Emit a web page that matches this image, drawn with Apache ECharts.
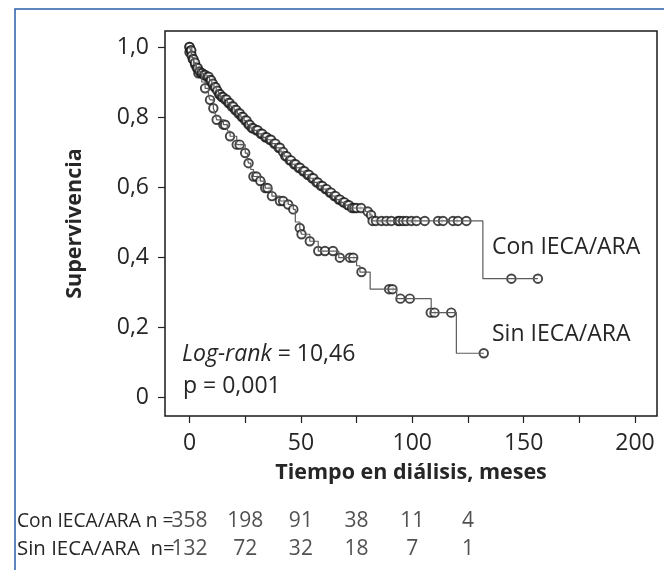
<!DOCTYPE html>
<html>
<head>
<meta charset="utf-8">
<script src="https://cdn.jsdelivr.net/npm/echarts@6/dist/echarts.min.js"></script>
<style>
  html, body { margin: 0; padding: 0; background: #fff; }
  #chart { width: 664px; height: 570px; }
</style>
</head>
<body>
<div id="chart"></div>
<script>
// Kaplan-Meier steps, [months, survival]
const conSteps = [
  [0, 1.0], [0.5, 0.99], [1, 0.975], [1.5, 0.965], [2, 0.955], [3, 0.94], [4, 0.93], [5, 0.925],
  [6, 0.92], [7.5, 0.915], [9, 0.905], [10, 0.895], [11, 0.885], [12, 0.875], [13, 0.865],
  [14, 0.857], [15.5, 0.85], [17, 0.84], [18.5, 0.83], [20, 0.82], [21.5, 0.81], [23, 0.8],
  [24.5, 0.79], [26, 0.778], [27.5, 0.768], [29, 0.762], [31, 0.752], [33, 0.742], [35, 0.735],
  [37, 0.724], [39, 0.712], [41, 0.7], [42.5, 0.688], [44, 0.676], [46, 0.665], [48, 0.655],
  [50, 0.645], [52, 0.635], [54, 0.625], [56, 0.613], [58, 0.603], [60, 0.594], [62, 0.584],
  [64, 0.574], [66, 0.564], [68, 0.556], [70, 0.548], [72, 0.54], [79, 0.53], [81, 0.52],
  [82, 0.503], [131.7, 0.338], [156.4, 0.338]
];
const conCensored = [
  [0, 1.0], [0, 0.985], [0.5, 0.99], [0.8, 0.99], [1, 0.975], [1.5, 0.965], [1.8, 0.965],
  [2.5, 0.955], [3.3, 0.94], [3.7, 0.94], [4.5, 0.93], [5.3, 0.925], [5.7, 0.925], [6.5, 0.92],
  [7, 0.92], [8, 0.915], [8.6, 0.915], [9.3, 0.905], [9.7, 0.905], [10.5, 0.895], [11.3, 0.885],
  [11.7, 0.885], [12.5, 0.875], [13.3, 0.865], [13.7, 0.865], [14.5, 0.857], [15, 0.857],
  [16, 0.85], [16.6, 0.85], [17.5, 0.84], [18, 0.84], [19, 0.83], [19.6, 0.83], [20.5, 0.82],
  [21, 0.82], [22, 0.81], [22.6, 0.81], [23.5, 0.8], [24, 0.8], [25, 0.79], [25.6, 0.79],
  [26.5, 0.778], [27, 0.778], [28, 0.768], [28.6, 0.768], [30, 0.762], [30.6, 0.762],
  [32, 0.752], [32.6, 0.752], [34, 0.742], [34.6, 0.742], [36, 0.735], [36.6, 0.735],
  [38, 0.724], [38.6, 0.724], [40, 0.712], [40.6, 0.712], [42, 0.7], [43, 0.688], [43.6, 0.688],
  [45, 0.676], [45.6, 0.676], [47, 0.665], [47.6, 0.665], [49, 0.655], [49.6, 0.655],
  [51, 0.645], [51.6, 0.645], [53, 0.635], [53.6, 0.635], [55, 0.625], [55.6, 0.625],
  [57, 0.613], [57.6, 0.613], [59, 0.603], [59.6, 0.603], [61, 0.594], [61.6, 0.594],
  [63, 0.584], [63.6, 0.584], [65, 0.574], [65.6, 0.574], [67, 0.564], [67.6, 0.564],
  [69, 0.556], [69.6, 0.556], [71, 0.548], [71.6, 0.548], [73, 0.54], [74, 0.54], [75, 0.54],
  [77, 0.54], [80, 0.53], [81.5, 0.52],
  [82.2, 0.503], [83.7, 0.503], [86.2, 0.503], [88.4, 0.503], [90.6, 0.503], [93.6, 0.503],
  [94.4, 0.503], [95.9, 0.503], [97.4, 0.503], [99.6, 0.503], [101.9, 0.503], [105.6, 0.503],
  [111.6, 0.503], [113.8, 0.503], [118.3, 0.503], [120.5, 0.503], [124.3, 0.503],
  [144.5, 0.338], [156.4, 0.338]
];
const sinSteps = [
  [0, 1.0], [1, 0.97], [2, 0.95], [3, 0.935], [4, 0.925], [5.5, 0.9], [7, 0.882], [8.5, 0.86],
  [9.2, 0.849], [10.7, 0.825], [11.5, 0.81], [12.2, 0.792], [15.2, 0.778], [17, 0.76],
  [18.2, 0.745], [21.2, 0.721], [25, 0.697], [26, 0.68], [26.5, 0.668], [27.5, 0.65],
  [28.7, 0.63], [31.8, 0.617], [34, 0.597], [37, 0.574], [40.6, 0.56], [44.3, 0.55],
  [46.6, 0.536], [47.5, 0.5], [49.5, 0.483], [50.3, 0.465], [54, 0.445], [57.8, 0.417],
  [67, 0.398], [75, 0.375], [76.5, 0.357], [81.1, 0.308], [93, 0.281], [108.5, 0.241],
  [119.8, 0.125], [132.1, 0.125]
];
const sinCensored = [
  [0, 1.0], [0.5, 0.985], [2.5, 0.95], [4, 0.925], [7, 0.882], [9.2, 0.849], [10.7, 0.825],
  [12.2, 0.792], [15.2, 0.778], [16, 0.778], [18.2, 0.745], [21.2, 0.721], [22.5, 0.721],
  [25, 0.697], [26.5, 0.668], [28.7, 0.63], [30, 0.63], [31.8, 0.617], [34, 0.597], [35, 0.597],
  [37, 0.574], [40.6, 0.56], [42, 0.56], [44.3, 0.55], [46.6, 0.536], [49.5, 0.483],
  [50.3, 0.465], [54, 0.445], [57.8, 0.417], [60.8, 0.417], [64.4, 0.417], [67.5, 0.398],
  [72, 0.398], [73.5, 0.398], [77.2, 0.357], [89.6, 0.308], [91.1, 0.308], [94.7, 0.281],
  [98.9, 0.281], [108.3, 0.241], [110, 0.241], [117.5, 0.241], [132.1, 0.125]
];

// axis ticks and labels
const xTicks = [0, 25, 50, 75, 100, 125, 150, 175, 200];
const xLabels = [0, 50, 100, 150, 200];
const yTicks = [0, 0.2, 0.4, 0.6, 0.8, 1.0];

// numbers at risk
const groups = ['Con IECA/ARA', 'Sin IECA/ARA'];
const riskMonths = [0, 25, 50, 75, 100, 125];
const riskCon = [358, 198, 91, 38, 11, 4];
const riskSin = [132, 72, 32, 18, 7, 1];

const font = '"Open Sans", "Noto Sans", sans-serif';
const textColor = '#262626';
const xMin = -11;
const xMax = 209.87;

const chart = echarts.init(document.getElementById('chart'));

const stepLine = (data) => ({
  type: 'line',
  step: 'end',
  showSymbol: false,
  clip: false,
  silent: true,
  data: data,
  lineStyle: { color: '#5c5c5c', width: 1.2 },
});

const censorMarks = (data) => ({
  type: 'scatter',
  clip: false,
  silent: true,
  symbol: 'circle',
  symbolSize: 8.5,
  data: data,
  itemStyle: { color: '#fff', borderColor: '#161616', borderWidth: 1.9 },
});

const riskRow = (group, values) => ({
  type: 'scatter',
  xAxisIndex: 1,
  yAxisIndex: 1,
  silent: true,
  symbolSize: 0,
  data: riskMonths.map((m, i) => [m, group, values[i]]),
  label: {
    show: true,
    position: 'inside',
    formatter: (p) => String(p.value[2]),
    fontSize: 21,
    fontFamily: font,
    color: textColor,
  },
});

chart.setOption({
  animation: false,
  backgroundColor: '#fff',
  grid: [
    { left: 165, top: 31, width: 492, height: 385, show: true, borderColor: '#1a1a1a', borderWidth: 1.5, backgroundColor: 'transparent' },
    { left: 165, top: 507, width: 492, height: 56 },
  ],
  xAxis: [
    {
      gridIndex: 0,
      type: 'value',
      min: xMin,
      max: xMax,
      axisLine: { show: false, onZero: false },
      axisTick: { show: true, length: 7, customValues: xTicks, lineStyle: { color: '#222', width: 1.2 } },
      splitLine: { show: false },
      axisLabel: {
        customValues: xLabels,
        margin: 16,
        fontSize: 23,
        fontFamily: font,
        color: textColor,
      },
      name: 'Tiempo en diálisis, meses',
      nameLocation: 'middle',
      nameGap: 46,
      nameTextStyle: { fontWeight: 'bold', fontSize: 21.5, fontFamily: font, color: textColor },
    },
    { gridIndex: 1, type: 'value', show: false, min: xMin, max: xMax },
  ],
  yAxis: [
    {
      gridIndex: 0,
      type: 'value',
      min: -0.0543,
      max: 1.0457,
      axisLine: { show: false, onZero: false },
      axisTick: { show: true, length: 7, customValues: yTicks, lineStyle: { color: '#222', width: 1.2 } },
      splitLine: { show: false },
      axisLabel: {
        customValues: yTicks,
        formatter: (v) => (v === 0 ? '0' : v.toFixed(1).replace('.', ',')),
        margin: 16,
        fontSize: 23,
        fontFamily: font,
        color: textColor,
      },
      name: 'Supervivencia',
      nameLocation: 'middle',
      nameGap: 79,
      nameRotate: 90,
      nameTextStyle: { fontWeight: 'bold', fontSize: 21.5, fontFamily: font, color: textColor },
    },
    { gridIndex: 1, type: 'category', show: false, inverse: true, data: groups },
  ],
  series: [
    stepLine(sinSteps),
    stepLine(conSteps),
    censorMarks(sinCensored),
    censorMarks(conCensored),
    riskRow(groups[0], riskCon),
    riskRow(groups[1], riskSin),
  ],
  graphic: [
    {
      type: 'polyline',
      silent: true,
      shape: { points: [[15, 570], [15, 9], [664, 9]] },
      style: { stroke: '#2a5ea8', lineWidth: 1.5, fill: null },
    },
    {
      type: 'text', x: 492, y: 247, silent: true,
      style: { text: 'Con IECA/ARA', fontSize: 23, fontFamily: font, fill: textColor, align: 'left', verticalAlign: 'middle' },
    },
    {
      type: 'text', x: 492, y: 334, silent: true,
      style: { text: 'Sin IECA/ARA', fontSize: 23, fontFamily: font, fill: textColor, align: 'left', verticalAlign: 'middle' },
    },
    {
      type: 'text', x: 182, y: 354, silent: true,
      style: {
        text: '{i|Log-rank} = 10,46',
        fontSize: 23, fontFamily: font, fill: textColor, align: 'left', verticalAlign: 'middle',
        rich: { i: { fontStyle: 'italic', fontSize: 23, fontFamily: font, fill: textColor } },
      },
    },
    {
      type: 'text', x: 183, y: 386, silent: true,
      style: { text: 'p = 0,001', fontSize: 23, fontFamily: font, fill: textColor, align: 'left', verticalAlign: 'middle' },
    },
    {
      type: 'text', x: 17, y: 521, silent: true, scaleX: 0.96,
      style: { text: 'Con IECA/ARA n =', fontSize: 20, fontFamily: font, fill: textColor, align: 'left', verticalAlign: 'middle' },
    },
    {
      type: 'text', x: 17, y: 549, silent: true, scaleX: 1.02,
      style: { text: 'Sin IECA/ARA  n=', fontSize: 20, fontFamily: font, fill: textColor, align: 'left', verticalAlign: 'middle' },
    },
  ],
});
</script>
</body>
</html>
